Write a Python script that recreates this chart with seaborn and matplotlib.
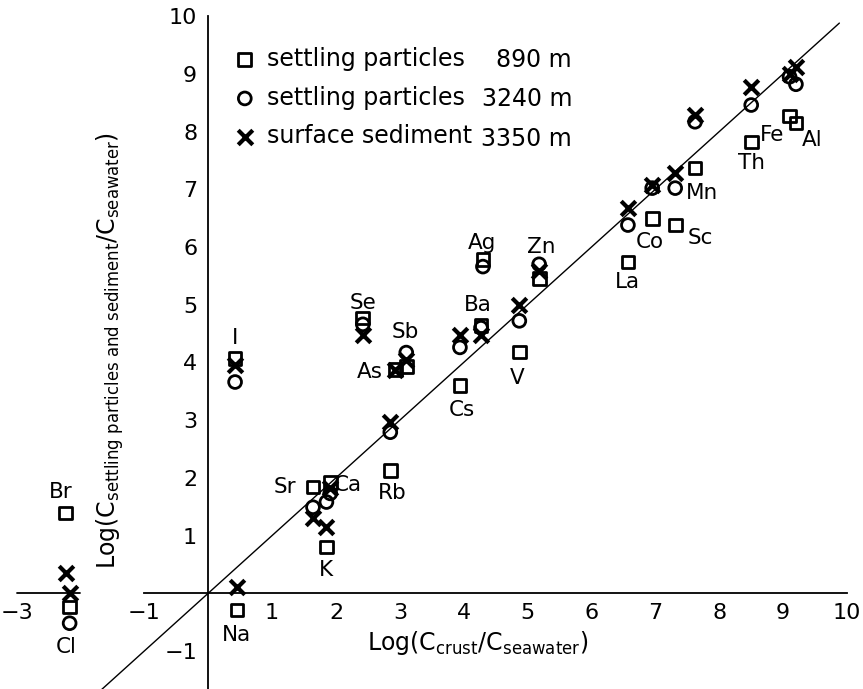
import numpy as np
import pandas as pd
import matplotlib
matplotlib.use("Agg")
import matplotlib.pyplot as plt
import seaborn as sns

nan = np.nan

# element data
elements = ["Br", "Cl", "Na", "I", "Sr", "K", "Ca", "Rb", "Se", "As", "Sb", "Cs",
            "Ba", "Ag", "V", "Zn", "La", "Co", "Sc", "Mn", "Th", "Fe", "Al"]
log_crust = [-2.23, -2.17, 0.45, 0.42, 1.64, 1.85, 1.91, 2.85, 2.42, 2.93, 3.10, 3.94,
             4.27, 4.30, 4.87, 5.18, 6.57, 6.95, 7.31, 7.62, 8.50, 9.10, 9.20]
trap_890 = [1.39, -0.24, -0.29, 4.07, 1.84, 0.80, 1.92, 2.13, 4.77, 3.87, 3.93, 3.60,
            4.64, 5.78, 4.18, 5.45, 5.74, 6.50, 6.38, 7.37, 7.82, 8.27, 8.15]
trap_3240 = [nan, -0.52, nan, 3.66, 1.49, 1.58, 1.73, 2.79, 4.66, nan, 4.17, 4.26,
             4.60, 5.66, 4.72, 5.70, 6.38, 7.02, 7.02, 8.17, 8.46, 8.95, 8.82]
sediment_3350 = [0.35, 0.00, 0.10, 3.95, 1.30, 1.14, 1.82, 2.96, 4.48, 3.87, 4.05, 4.47,
                 4.48, nan, 4.99, 5.58, 6.67, 7.08, 7.28, 8.28, 8.78, 9.00, 9.12]

series_names = ["settling particles", "settling particles", "surface sediment"]
series_depths = ["890 m", "3240 m", "3350 m"]

x_ticks = [-3, -2, -1, 1, 2, 3, 4, 5, 6, 7, 8, 9, 10]
x_ticklabels = ["\u22123", "", "\u22121", "1", "2", "3", "4", "5", "6", "7", "8", "9", "10"]
y_ticks = [-1, 1, 2, 3, 4, 5, 6, 7, 8, 9, 10]
y_ticklabels = ["\u22121", "1", "2", "3", "4", "5", "6", "7", "8", "9", "10"]

# label offsets (pixels) from the 890 m square
label_offsets = {
    "Br": (-5, 21), "Cl": (-3, -40), "Na": (0, -25), "I": (0, 20), "Sr": (-28, 0),
    "K": (0, -23), "Ca": (18, -3), "Rb": (2, -23), "Se": (0, 15), "As": (-26, -2),
    "Sb": (-1, 34), "Cs": (2, -25), "Ba": (-3, 20), "Ag": (-1, 17), "V": (-2, -26),
    "Zn": (2, 32), "La": (0, -20), "Co": (-2, -24), "Sc": (25, -13), "Mn": (7, -25),
    "Th": (0, -21), "Fe": (-17, -19), "Al": (16, -17),
}


def main():
    sns.set_style("white")
    plt.rcParams.update({
        "font.family": ["DejaVu Sans"],
        "mathtext.default": "regular",
        "text.color": "black",
        "axes.labelcolor": "black",
        "xtick.color": "black",
        "ytick.color": "black",
    })

    df = pd.DataFrame({
        "element": elements,
        "crust": log_crust,
        "p890": trap_890,
        "p3240": trap_3240,
        "s3350": sediment_3350,
    })

    fig = plt.figure(figsize=(8.63, 6.89), dpi=100)
    ax = fig.add_axes([0, 0, 1, 1])

    # 1:1 line
    line_x = np.array([-1.7, 9.88])
    ax.plot(line_x, line_x, color="black", lw=1.0, zorder=1)

    sns.scatterplot(data=df, x="crust", y="p890", marker="s", s=85,
                    facecolor="none", edgecolor="black", linewidth=2.0,
                    label=series_names[0], ax=ax, zorder=3)
    sns.scatterplot(data=df, x="crust", y="p3240", marker="o", s=85,
                    facecolor="none", edgecolor="black", linewidth=2.0,
                    label=series_names[1], ax=ax, zorder=3)
    sns.scatterplot(data=df, x="crust", y="s3350", marker="x", s=110,
                    color="black", linewidth=3.0,
                    label=series_names[2], ax=ax, zorder=4)

    for name, xv, yv in zip(elements, log_crust, trap_890):
        dx, dy = label_offsets[name]
        ax.annotate(name, (xv, yv), xytext=(dx, dy), textcoords="offset pixels",
                    ha="center", va="center", fontsize=15.5, color="black")

    ax.set_xlim(-3.26, 10.25)
    ax.set_ylim(-1.66, 10.28)

    for side in ["top", "right"]:
        ax.spines[side].set_visible(False)
    ax.spines["left"].set_position(("data", 0))
    ax.spines["bottom"].set_position(("data", 0))
    ax.spines["left"].set_bounds(-1.66, 10)
    ax.spines["bottom"].set_bounds(-1, 10)
    for side in ["left", "bottom"]:
        ax.spines[side].set_linewidth(1.3)
        ax.spines[side].set_color("black")
    # short piece of x axis on the far left
    ax.plot([-3, -2], [0, 0], color="black", lw=1.3, clip_on=False)

    ax.set_xticks(x_ticks)
    ax.set_xticklabels(x_ticklabels)
    ax.set_yticks(y_ticks)
    ax.set_yticklabels(y_ticklabels)
    ax.tick_params(axis="x", direction="in", length=6, width=1.2, labelsize=16, pad=7)
    ax.tick_params(axis="y", direction="out", length=5, width=1.2, labelsize=16, pad=3)
    ax.set_xlabel("")
    ax.set_ylabel("")

    fig.text(478 / 863, 1 - 643 / 689,
             r"Log(C$_{crust}$/C$_{seawater}$)", fontsize=17, ha="center", va="center")
    fig.text(110 / 863, 1 - 350 / 689,
             r"Log(C$_{settling\ particles\ and\ sediment}$/C$_{seawater}$)",
             fontsize=17, rotation=90, ha="center", va="center")

    leg = ax.legend(loc="upper left", bbox_to_anchor=(233 / 863, 1 - 47 / 689),
                    frameon=False, fontsize=17, handlelength=1.0, handletextpad=0.43,
                    labelspacing=0.62, borderpad=0, borderaxespad=0, scatterpoints=1)
    for t in leg.get_texts():
        t.set_color("black")
    for txt, ypx in zip(series_depths, [60, 99, 139]):
        ax.text(572 / 863, 1 - ypx / 689, txt, transform=ax.transAxes,
                ha="right", va="center", fontsize=17, color="black")

    fig.savefig("out.png", dpi=100)
    plt.close(fig)


if __name__ == "__main__":
    main()
